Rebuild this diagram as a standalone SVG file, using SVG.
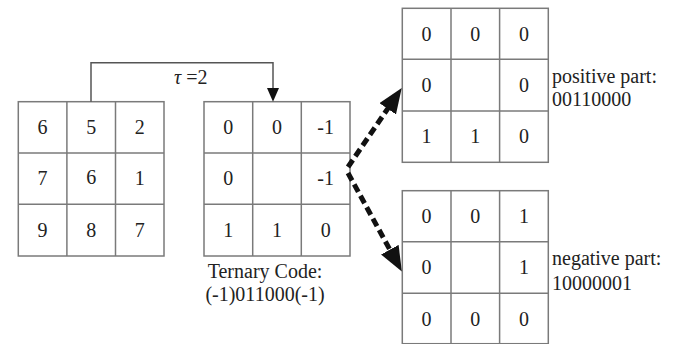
<svg xmlns="http://www.w3.org/2000/svg" width="675" height="344" viewBox="0 0 675 344">
<style>
.g{fill:#fff;stroke:#7a7a7a;stroke-width:1.5}
.l{stroke:#7a7a7a;stroke-width:1.5}
text{font-family:"Liberation Serif","Times New Roman",serif;font-size:20px;fill:#222}
.c{text-anchor:middle}
.dash{fill:none;stroke:#111;stroke-width:5;stroke-dasharray:8.5 4.5}
</style>
<defs>
<marker id="ah" markerUnits="userSpaceOnUse" markerWidth="26" markerHeight="22" refX="2" refY="10" orient="auto">
<path d="M0,0 L25,10 L0,20 z" fill="#111"/>
</marker>
</defs>
<g id="input">
<rect class="g" x="18.3" y="101.7" width="145.7" height="154.3"/>
<line class="l" x1="66.9" y1="101.7" x2="66.9" y2="256"/>
<line class="l" x1="115.5" y1="101.7" x2="115.5" y2="256"/>
<line class="l" x1="18.3" y1="153" x2="164" y2="153"/>
<line class="l" x1="18.3" y1="204.3" x2="164" y2="204.3"/>
<text class="c" x="42.6" y="134">6</text><text class="c" x="91.2" y="134">5</text><text class="c" x="139.8" y="134">2</text>
<text class="c" x="42.6" y="185.4">7</text><text class="c" x="91.2" y="183.5">6</text><text class="c" x="139.8" y="185.4">1</text>
<text class="c" x="42.6" y="236.8">9</text><text class="c" x="91.2" y="236.8">8</text><text class="c" x="139.8" y="236.8">7</text>
</g>
<g id="ternary">
<rect class="g" x="204" y="101.7" width="146" height="154.3"/>
<line class="l" x1="252.7" y1="101.7" x2="252.7" y2="256"/>
<line class="l" x1="301.3" y1="101.7" x2="301.3" y2="256"/>
<line class="l" x1="204" y1="153" x2="350" y2="153"/>
<line class="l" x1="204" y1="204.3" x2="350" y2="204.3"/>
<text class="c" x="228.3" y="134">0</text><text class="c" x="277" y="134">0</text><text class="c" x="325.7" y="134">-1</text>
<text class="c" x="228.3" y="185.4">0</text><text class="c" x="325.7" y="185.4">-1</text>
<text class="c" x="228.3" y="236.8">1</text><text class="c" x="277" y="236.8">1</text><text class="c" x="325.7" y="236.8">0</text>
<text class="c" x="265" y="278">Ternary Code:</text>
<text class="c" x="265" y="301">(-1)011000(-1)</text>
</g>
<g id="positive">
<rect class="g" x="402.3" y="8.3" width="146" height="154"/>
<line class="l" x1="451" y1="8.3" x2="451" y2="162.3"/>
<line class="l" x1="499.6" y1="8.3" x2="499.6" y2="162.3"/>
<line class="l" x1="402.3" y1="59.3" x2="548.3" y2="59.3"/>
<line class="l" x1="402.3" y1="111" x2="548.3" y2="111"/>
<text class="c" x="426.6" y="40.5">0</text><text class="c" x="475.3" y="40.5">0</text><text class="c" x="524" y="40.5">0</text>
<text class="c" x="426.6" y="92">0</text><text class="c" x="524" y="92">0</text>
<text class="c" x="426.6" y="143.4">1</text><text class="c" x="475.3" y="143.4">1</text><text class="c" x="524" y="143.4">0</text>
<text x="552" y="83">positive part:</text>
<text x="552" y="106">00110000</text>
</g>
<g id="negative">
<rect class="g" x="402.3" y="190.7" width="146" height="153"/>
<line class="l" x1="451" y1="190.7" x2="451" y2="344"/>
<line class="l" x1="499.6" y1="190.7" x2="499.6" y2="344"/>
<line class="l" x1="402.3" y1="241.7" x2="548.3" y2="241.7"/>
<line class="l" x1="402.3" y1="293.3" x2="548.3" y2="293.3"/>
<text class="c" x="426.6" y="223">0</text><text class="c" x="475.3" y="223">0</text><text class="c" x="524" y="223">1</text>
<text class="c" x="426.6" y="274">0</text><text class="c" x="524" y="274">1</text>
<text class="c" x="426.6" y="325.5">0</text><text class="c" x="475.3" y="325.5">0</text><text class="c" x="524" y="325.5">0</text>
<text x="552" y="265">negative part:</text>
<text x="552" y="290">10000001</text>
</g>
<g id="connectors">
<polyline points="91,101.7 91,62.7 273,62.7 273,89" fill="none" stroke="#555" stroke-width="1.5"/>
<polygon points="267,88 279,88 273,101.7" fill="#111"/>
<text x="174" y="84"><tspan font-style="italic">τ</tspan> =2</text>
<line class="dash" x1="348" y1="167" x2="388.8" y2="107.1" marker-end="url(#ah)"/>
<line class="dash" x1="348" y1="173" x2="390.8" y2="251.4" marker-end="url(#ah)"/>
</g>
</svg>
